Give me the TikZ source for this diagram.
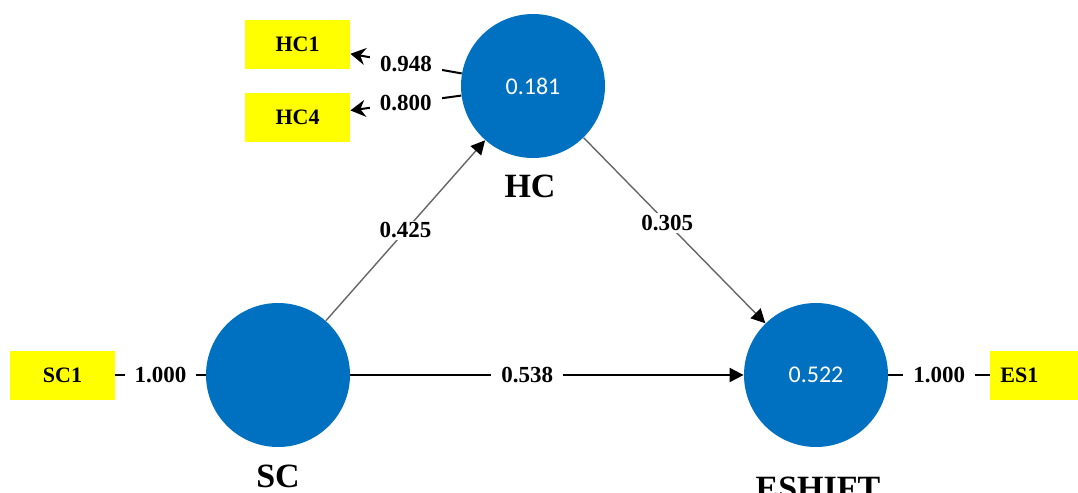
\documentclass[tikz,border=0pt]{standalone}
\usepackage{fontspec}
\setmainfont{Liberation Serif}
\newfontfamily\carlito{Carlito}
\usetikzlibrary{positioning,arrows.meta}
\definecolor{lvblue}{RGB}{0,112,192}
\definecolor{mvyellow}{RGB}{255,255,0}

\begin{document}
\begin{tikzpicture}[x=0.5pt, y=-0.5pt,
        latentnode/.style={circle, fill=lvblue, minimum size=72pt, inner sep=0pt, text=white, font=\carlito\fontsize{12}{14}\selectfont},
        itemnode/.style={rectangle, fill=mvyellow, minimum width=52.5pt, minimum height=24.5pt, font=\bfseries\fontsize{11}{13}\selectfont},
        namenode/.style={font=\bfseries\fontsize{17}{20}\selectfont},
        coefnode/.style={fill=white, inner xsep=5pt, inner ysep=1pt, font=\bfseries\fontsize{11.5}{13}\selectfont},
        pathline/.style={draw=black!60, line width=0.7pt, -{Triangle[length=7pt,width=7pt,color=black]}},
        loadline/.style={draw=black, line width=1pt, -{Stealth[length=7.5pt,width=8.5pt,inset=2.5pt]}},
        plainline/.style={draw=black, line width=1pt}]

        \useasboundingbox (0,0) rectangle (1078,493);

        \node[latentnode] (HC) at (533,86) {0.181};
        \node[latentnode] (SC) at (278,375) {};
        \node[latentnode] (ES) at (816,375) {0.522};

        \node[itemnode] (HC1) at (297.5,44.5) {HC1};
        \node[itemnode] (HC4) at (297.5,117.5) {HC4};
        \node[itemnode] (SC1) at (62.5,375) {SC1};
        \node[itemnode, anchor=west, text width=42.5pt, inner xsep=5pt, align=left] (ES1) at (990,375) {ES1};

        \node[namenode] (HClab) at (530,186) {HC};
        \node[namenode] (SClab) at (278,476) {SC};
        \node[namenode] (ESlab) at (818,488) {ESHIFT};

        \draw[loadline] (HC) -- node[coefnode] {0.948} (HC1);
        \draw[loadline] (HC) -- node[coefnode] {0.800} (HC4);
        \draw[plainline] (SC1) -- node[coefnode] {1.000} (SC);
        \draw[pathline] (SC) -- node[coefnode] {0.425} (HC);
        \draw[pathline] (HC) -- node[coefnode, pos=0.46] {0.305} (ES);
        \draw[pathline, draw=black, line width=1pt] (SC) -- node[coefnode, pos=0.45] {0.538} (ES);
        \draw[plainline] (ES) -- node[coefnode] {1.000} (ES1);

\end{tikzpicture}
\end{document}
